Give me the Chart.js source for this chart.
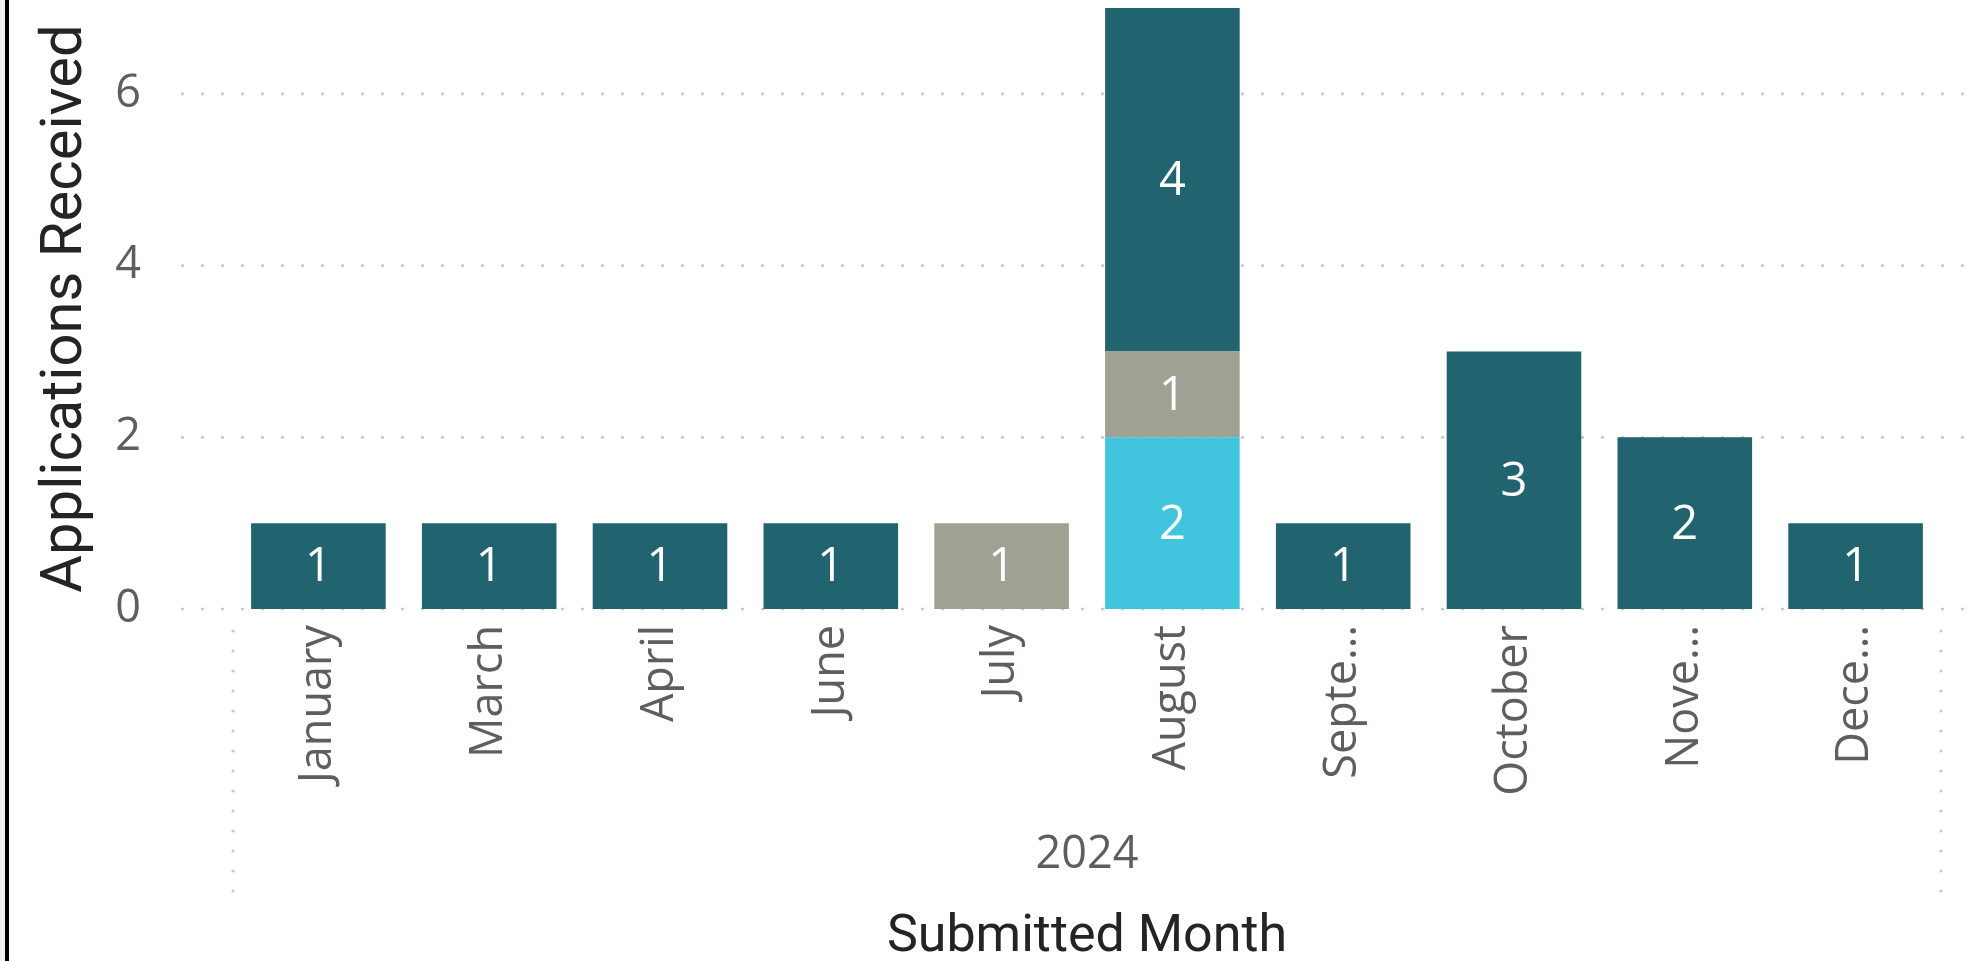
<!DOCTYPE html>
<html>
<head>
<meta charset="utf-8">
<script src="https://cdn.jsdelivr.net/npm/chart.js@4/dist/chart.umd.min.js"></script>
<style>
  html, body { margin: 0; padding: 0; background: #ffffff; overflow: hidden; }
  #wrap { position: relative; width: 1972px; height: 961px; }
  #strip { position: absolute; left: 0; top: 0; width: 5px; height: 961px; background: #f0f0f0; }
  #edge { position: absolute; left: 5px; top: 0; width: 4px; height: 961px; background: #000000; }
  canvas { position: absolute; left: 0; top: 0; }
</style>
</head>
<body>
<div id="wrap">
  <canvas id="c" width="1972" height="961"></canvas>
  <div id="strip"></div>
  <div id="edge"></div>
</div>
<script>
// ---- data ----
const months = ["January", "March", "April", "June", "July", "August", "Septe…", "October", "Nove…", "Dece…"];
const yearLabel = "2024";
const seriesNames = ["Series C", "Series B", "Series A"];
const cyanValues = [null, null, null, null, null, 2, null, null, null, null];
const grayValues = [null, null, null, null, 1, 1, null, null, null, null];
const tealValues = [1, 1, 1, 1, null, 4, 1, 3, 2, 1];
const yTicks = [0, 2, 4, 6];

const colors = { cyan: "#41C4DD", gray: "#A0A193", teal: "#21636E" };
const tickFont = "'Open Sans', 'Noto Sans', sans-serif";
const titleFont = "Roboto, 'Liberation Sans', sans-serif";

// dotted gridlines + group boundary lines + year label
const decor = {
  id: "decor",
  beforeDatasetsDraw(chart) {
    const ctx = chart.ctx, ca = chart.chartArea, y = chart.scales.y;
    ctx.save();
    ctx.fillStyle = "#C8C8C8";
    const x0 = ca.left - 50.5, x1 = ca.right + 22;
    yTicks.forEach(v => {
      const py = y.getPixelForValue(v);
      for (let px = x0; px <= x1; px += 20) {
        ctx.beginPath(); ctx.arc(px, py, 1.6, 0, Math.PI * 2); ctx.fill();
      }
    });
    ctx.restore();
  },
  afterDraw(chart) {
    const ctx = chart.ctx, ca = chart.chartArea, x = chart.scales.x;
    ctx.save();
    ctx.fillStyle = "#C8C8C8";
    [x.left, x.right].forEach(px => {
      for (let py = ca.bottom + 22; py <= ca.bottom + 284; py += 20) {
        ctx.beginPath(); ctx.arc(px, py, 1.6, 0, Math.PI * 2); ctx.fill();
      }
    });
    ctx.fillStyle = "#605E5C";
    ctx.font = "45px " + tickFont;
    ctx.textAlign = "center";
    ctx.textBaseline = "middle";
    ctx.fillText(yearLabel, (x.left + x.right) / 2, ca.bottom + 246);
    ctx.restore();
  }
};

// value labels inside bar segments
const valueLabels = {
  id: "valueLabels",
  afterDatasetsDraw(chart) {
    const ctx = chart.ctx;
    ctx.save();
    ctx.fillStyle = "#FFFFFF";
    ctx.font = "47px " + tickFont;
    ctx.textAlign = "center";
    ctx.textBaseline = "middle";
    chart.data.datasets.forEach((ds, di) => {
      const meta = chart.getDatasetMeta(di);
      meta.data.forEach((bar, i) => {
        const v = ds.data[i];
        if (v === null || v === undefined) return;
        const cy = (bar.y + bar.base) / 2;
        ctx.fillText(String(v), bar.x, cy + 2);
      });
    });
    ctx.restore();
  }
};

new Chart(document.getElementById("c"), {
  type: "bar",
  data: {
    labels: months,
    datasets: [
      { label: seriesNames[0], data: cyanValues, backgroundColor: colors.cyan },
      { label: seriesNames[1], data: grayValues, backgroundColor: colors.gray },
      { label: seriesNames[2], data: tealValues, backgroundColor: colors.teal }
    ]
  },
  options: {
    responsive: false,
    animation: false,
    events: [],
    layout: { padding: { left: 9, right: 31, top: 8, bottom: 0 } },
    plugins: { legend: { display: false }, tooltip: { enabled: false }, title: { display: false } },
    datasets: { bar: { categoryPercentage: 1.0, barPercentage: 0.788 } },
    scales: {
      x: {
        stacked: true,
        grid: { display: false, drawTicks: false },
        border: { display: false },
        ticks: {
          color: "#605E5C",
          font: { family: tickFont, size: 45 },
          minRotation: 90, maxRotation: 90,
          padding: 16,
          autoSkip: false
        },
        title: {
          display: true,
          text: "Submitted Month",
          color: "#252423",
          font: { family: titleFont, size: 52, lineHeight: 0.8 },
          padding: { top: 0, bottom: 2 }
        },
        afterFit(scale) { scale.height = 352; scale.paddingLeft = 0; scale.paddingRight = 0; }
      },
      y: {
        stacked: true,
        min: 0, max: 7,
        grid: { display: false, drawTicks: false },
        border: { display: false },
        afterBuildTicks(scale) { scale.ticks = yTicks.map(v => ({ value: v })); },
        ticks: {
          color: "#605E5C",
          font: { family: tickFont, size: 45 },
          padding: 92
        },
        title: {
          display: true,
          text: "Applications Received",
          color: "#252423",
          font: { family: titleFont, size: 58, lineHeight: 1.2 },
          padding: { top: 23, bottom: 0 }
        },
        afterFit(scale) { scale.width = 224; scale.paddingTop = 0; scale.paddingBottom = 0; }
      }
    }
  },
  plugins: [decor, valueLabels]
});
</script>
</body>
</html>
